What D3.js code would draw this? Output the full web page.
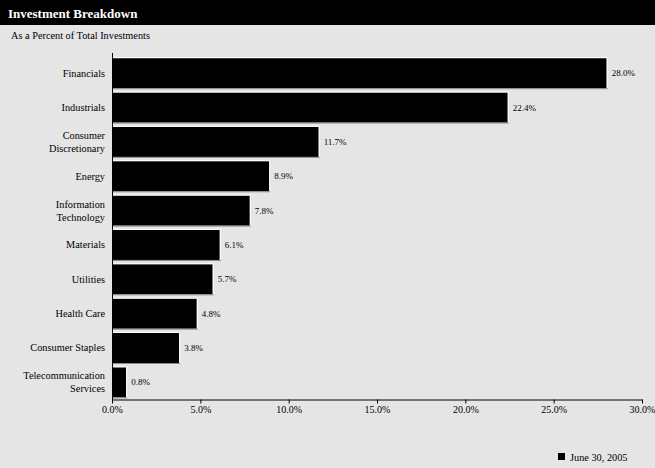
<!DOCTYPE html>
<html><head><meta charset="utf-8">
<script src="https://cdn.jsdelivr.net/npm/d3@7"></script>
<style>
html,body{margin:0;padding:0;background:#e5e5e5;}
svg{display:block;font-family:"Liberation Serif","Times New Roman",serif;}
</style></head>
<body><svg id="c" width="655" height="468"></svg>
<script>
const categories = ["Financials","Industrials","Consumer\nDiscretionary","Energy","Information\nTechnology","Materials","Utilities","Health Care","Consumer Staples","Telecommunication\nServices"];
const values = [28.0,22.4,11.7,8.9,7.8,6.1,5.7,4.8,3.8,0.8];
const tickValues = [0,5,10,15,20,25,30];
const seriesName = "June 30, 2005";
const title = "Investment Breakdown";
const subtitle = "As a Percent of Total Investments";

const svg = d3.select("#c");
const W = 655, H = 468;
svg.append("rect").attr("width",W).attr("height",H).attr("fill","#e5e5e5");
svg.append("rect").attr("width",W).attr("height",25).attr("fill","#000");
svg.append("text").attr("x",8).attr("y",17.5).attr("fill","#fff").attr("font-weight","bold").attr("font-size",13).text(title);
svg.append("text").attr("x",11).attr("y",39).attr("fill","#000").attr("font-size",10.3).text(subtitle);

const x = d3.scaleLinear().domain([0,30]).range([112,642]);
const y = d3.scaleBand().domain(categories).range([56,399.5]).paddingInner(0.125).paddingOuter(0.0625);

const g = svg.append("g");
categories.forEach((c,i)=>{
  const y0 = y(c), h = y.bandwidth(), x1 = x(values[i]);
  g.append("rect").attr("x",x(0)).attr("y",y0).attr("width",x1-x(0)).attr("height",h).attr("fill","#000");
  g.append("line").attr("x1",x(0)).attr("x2",x1).attr("y1",y0-0.5).attr("y2",y0-0.5).attr("stroke","#fff");
  g.append("line").attr("x1",x1+0.5).attr("x2",x1+0.5).attr("y1",y0-1).attr("y2",y0+h).attr("stroke","#fff");
  g.append("line").attr("x1",x(0)).attr("x2",x1+1).attr("y1",y0+h+0.5).attr("y2",y0+h+0.5).attr("stroke","#888");
  g.append("text").attr("x",x1+5).attr("y",y0+h/2+3).attr("font-size",9).attr("fill","#000").text(values[i].toFixed(1)+"%");
  const lines = c.split("\n");
  const t = g.append("text").attr("text-anchor","end").attr("font-size",10.3).attr("fill","#000");
  lines.forEach((ln,j)=>{
    t.append("tspan").attr("x",105).attr("y",y0+h/2+3.5+(j-(lines.length-1)/2)*13).text(ln);
  });
});

// axes
const axis = d3.axisBottom(x).tickValues(tickValues).tickSize(4).tickSizeOuter(0).tickFormat(d=>d.toFixed(1)+"%");
const ax = svg.append("g").attr("transform","translate(0,399.5)").call(axis);
ax.select(".domain").attr("stroke","#000");
ax.selectAll(".tick line").attr("stroke","#000");
ax.selectAll(".tick text").attr("font-family","Liberation Serif, serif").attr("font-size",10).attr("fill","#000").attr("y",13.5).attr("dy",null);
svg.append("line").attr("x1",112.5).attr("x2",112.5).attr("y1",53).attr("y2",400).attr("stroke","#000");

// legend
svg.append("rect").attr("x",558).attr("y",453).attr("width",7).attr("height",7).attr("fill","#000");
svg.append("text").attr("x",570).attr("y",460.5).attr("font-size",10.3).attr("fill","#000").text(seriesName);
</script></body></html>
